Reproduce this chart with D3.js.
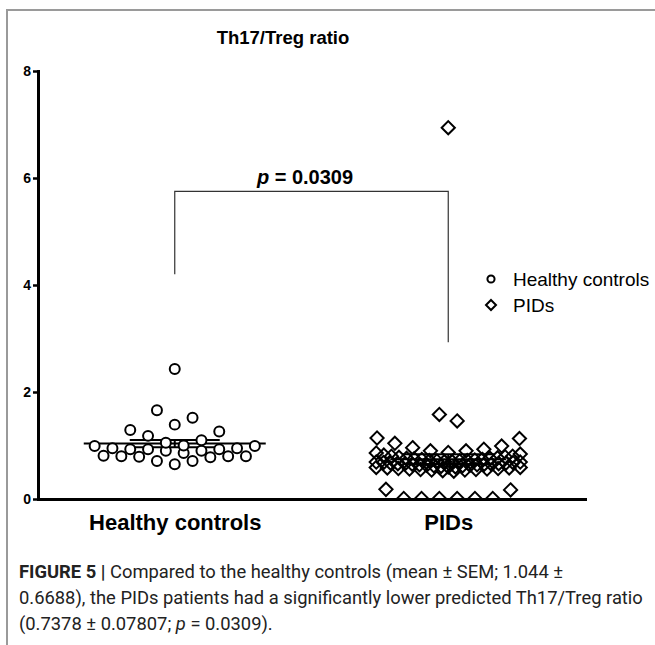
<!DOCTYPE html>
<html><head><meta charset="utf-8">
<script src="https://cdn.jsdelivr.net/npm/d3@7"></script>
<style>body{margin:0;background:#fff} svg{display:block}</style>
</head><body>
<svg id="chart" width="655" height="645"></svg>
<script>
// ---------- data ----------
const groups = ["Healthy controls", "PIDs"];
const healthyValues = [
  0.65, 0.71, 0.71, 0.78, 0.80, 0.80, 0.79, 0.80, 0.81,
  0.86, 0.90, 0.90, 0.93, 0.93, 0.93, 0.95, 0.95, 0.99, 0.99,
  1.00, 1.05, 1.10, 1.18, 1.26, 1.29,
  1.39, 1.52, 1.66,
  2.43
];
const pidsValues = [
  0.01, 0.01, 0.01, 0.01, 0.01, 0.01, 0.17, 0.18,
  0.59, 0.59, 0.58, 0.58, 0.57, 0.57, 0.56, 0.56, 0.55, 0.55, 0.54, 0.54, 0.53, 0.52,
  0.69, 0.69, 0.68, 0.68, 0.67, 0.67, 0.66, 0.66, 0.66, 0.65, 0.65, 0.65, 0.64, 0.64, 0.63, 0.63, 0.62, 0.62, 0.61, 0.60, 0.60,
  0.86, 0.84, 0.82, 0.80, 0.80, 0.79, 0.78, 0.77, 0.76, 0.76, 0.75, 0.74, 0.74, 0.73, 0.72, 0.72, 0.71, 0.71, 0.70, 0.70,
  0.87, 0.90, 0.90, 0.93, 0.96, 0.99, 1.04, 1.13, 1.14,
  1.46, 1.58,
  6.94
];
const yTicks = [0, 2, 4, 6, 8];
const titleText = "Th17/Treg ratio";
const pValueText = "0.0309";
const legendLabels = ["Healthy controls", "PIDs"];
// row breaks used to arrange the scatter (layout only)
const healthyRowBreaks = [0.83, 0.995, 1.35, 2.0];
const pidsRowBreaks = [0.3, 0.595, 0.695, 0.865, 1.3, 3.0];

// ---------- layout ----------
const svg = d3.select("#chart");
const FONT = "'Liberation Sans', Arial, sans-serif";
const axisY0 = 499, axisY8 = 71, axisX0 = 38, axisX1 = 585;

const x = d3.scalePoint().domain(groups).range([axisX0, axisX1]).padding(0.5);
const y = d3.scaleLinear().domain([0, 8]).range([axisY0, axisY8]);

// figure frame
svg.append("path").attr("d", `M7,645V10H655`).attr("fill", "none")
  .attr("stroke", "#9a9a9a").attr("stroke-width", 2);

// title
svg.append("text").attr("x", 283).attr("y", 44).attr("text-anchor", "middle")
  .attr("font-family", FONT).attr("font-weight", "bold").attr("font-size", 18.5)
  .text(titleText);

// swarm layout
function swarm(values, breaks, cx, spacing, maxHalf) {
  const sorted = values.map(v => ({ v })).sort((a, b) => a.v - b.v);
  const bins = d3.groups(sorted, d => d3.bisectRight(breaks, d.v));
  bins.forEach(([, pts]) => {
    const n = pts.length;
    const sp = n > 1 ? Math.min(spacing, 2 * maxHalf / (n - 1)) : spacing;
    pts.forEach((p, k) => {
      let off;
      if (n % 2 === 1) {
        const m = Math.ceil(k / 2);
        off = k === 0 ? 0 : (k % 2 === 1 ? m : -m);
      } else {
        const m = Math.floor(k / 2) + 0.5;
        off = k % 2 === 0 ? m : -m;
      }
      p.x = cx + off * sp;
    });
  });
  return sorted;
}

const healthyPts = swarm(healthyValues, healthyRowBreaks, x(groups[0]), 17.8, 90);
const pidsPts = swarm(pidsValues, pidsRowBreaks, x(groups[1]), 17.8, 72);

svg.append("defs").append("clipPath").attr("id", "plotclip")
  .append("rect").attr("x", axisX0).attr("y", 0).attr("width", 655 - axisX0).attr("height", axisY0);

const plot = svg.append("g").attr("clip-path", "url(#plotclip)");

// mean +- SEM
function stats(vals) {
  const m = d3.mean(vals);
  const sem = d3.deviation(vals) / Math.sqrt(vals.length);
  return { m, sem };
}
const meanHalf = [91, 58], capHalf = [45, 46];
[[groups[0], healthyValues], [groups[1], pidsValues]].forEach(([g, vals], i) => {
  const { m, sem } = stats(vals);
  const cx = x(g);
  const gl = plot.append("g").attr("stroke", "#000").attr("stroke-width", 2).attr("fill", "none");
  gl.append("line").attr("x1", cx - meanHalf[i]).attr("x2", cx + meanHalf[i]).attr("y1", y(m)).attr("y2", y(m));
  gl.append("line").attr("x1", cx - capHalf[i]).attr("x2", cx + capHalf[i]).attr("y1", y(m + sem)).attr("y2", y(m + sem));
  gl.append("line").attr("x1", cx - capHalf[i]).attr("x2", cx + capHalf[i]).attr("y1", y(m - sem)).attr("y2", y(m - sem));
  gl.append("line").attr("x1", cx).attr("x2", cx).attr("y1", y(m + sem)).attr("y2", y(m - sem));
});

// points
const circleSym = d3.symbol().type(d3.symbolCircle).size(78);
plot.append("g").selectAll("path").data(healthyPts).join("path")
  .attr("d", circleSym).attr("transform", d => `translate(${d.x},${y(d.v)})`)
  .attr("fill", "#fff").attr("stroke", "#000").attr("stroke-width", 2);

const diamond = "M0,-6.6L6.6,0L0,6.6L-6.6,0Z";
plot.append("g").selectAll("path").data(pidsPts).join("path")
  .attr("d", diamond).attr("transform", d => `translate(${d.x},${y(d.v)})`)
  .attr("fill", "none").attr("stroke", "#000").attr("stroke-width", 2);

// axes
const yAxis = svg.append("g").attr("transform", `translate(${axisX0},0)`)
  .call(d3.axisLeft(y).tickValues(yTicks).tickSize(5).tickSizeOuter(0).tickPadding(2).tickFormat(d3.format("d")));
yAxis.select(".domain").attr("stroke-width", 3).attr("stroke-linecap", "square");
yAxis.selectAll(".tick line").attr("stroke-width", 2.5);
yAxis.selectAll(".tick text").attr("font-family", FONT).attr("font-weight", "bold").attr("font-size", 14).attr("fill", "#000");

const xAxis = svg.append("g").attr("transform", `translate(0,${axisY0})`)
  .call(d3.axisBottom(x).tickSize(0).tickSizeOuter(0).tickPadding(15));
xAxis.select(".domain").attr("stroke-width", 3).attr("stroke-linecap", "square");
xAxis.selectAll(".tick text").attr("font-family", FONT).attr("font-weight", "bold").attr("font-size", 22).attr("fill", "#000");

// significance bracket
const bTop = y(5.75), bL = y(4.2), bR = y(2.93);
const xL = x(groups[0]), xR = x(groups[1]);
svg.append("path").attr("d", `M${xL},${bL}V${bTop}H${xR}V${bR}`)
  .attr("fill", "none").attr("stroke", "#333").attr("stroke-width", 1.2);
const pt = svg.append("text").attr("x", 305).attr("y", bTop - 7).attr("text-anchor", "middle")
  .attr("font-family", FONT).attr("font-weight", "bold").attr("font-size", 20);
pt.append("tspan").attr("font-style", "italic").text("p");
pt.append("tspan").text(" = " + pValueText);

// legend
const lg = svg.append("g").attr("transform", "translate(491,279)");
lg.append("path").attr("d", d3.symbol().type(d3.symbolCircle).size(40)).attr("fill", "#fff").attr("stroke", "#000").attr("stroke-width", 2);
lg.append("path").attr("d", "M0,-5L5,0L0,5L-5,0Z").attr("transform", "translate(0,26)").attr("fill", "none").attr("stroke", "#000").attr("stroke-width", 2);
lg.selectAll("text").data(legendLabels).join("text")
  .attr("x", 22).attr("y", (d, i) => i * 26 + 7)
  .attr("font-family", FONT).attr("font-size", 19).text(d => d);

// caption
const CAP = "'Liberation Sans Narrow', Roboto, 'Liberation Sans', Arial, sans-serif";
const cap = svg.append("g").attr("font-family", CAP).attr("fill", "#222");
const l1 = cap.append("text").attr("x", 19).attr("y", 578);
l1.append("tspan").attr("font-weight", "bold").text("FIGURE 5 |");
l1.append("tspan").text(" Compared to the healthy controls (mean \u00b1 SEM; 1.044 \u00b1");
const l2 = cap.append("text").attr("x", 19).attr("y", 604)
  .text("0.6688), the PIDs patients had a significantly lower predicted Th17/Treg ratio");
const l3 = cap.append("text").attr("x", 19).attr("y", 630);
l3.append("tspan").text("(0.7378 \u00b1 0.07807; ");
l3.append("tspan").attr("font-style", "italic").text("p");
l3.append("tspan").text(" = 0.0309).");
cap.selectAll("text").attr("font-size", 17);
const w2 = l2.node().getComputedTextLength();
cap.selectAll("text").attr("font-size", 17 * 624 / w2);
</script>
</body></html>
